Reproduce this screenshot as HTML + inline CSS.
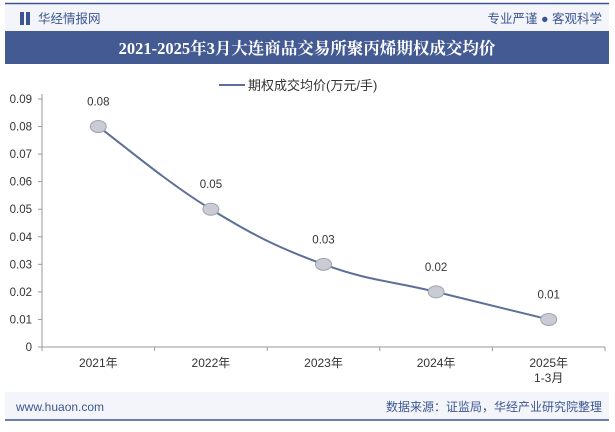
<!DOCTYPE html>
<html><head><meta charset="utf-8"><style>
body{margin:0;width:615px;height:427px;overflow:hidden;background:#fff;font-family:"Liberation Sans","Noto Sans CJK SC",sans-serif;}
</style></head><body>
<svg width="615" height="427" xmlns="http://www.w3.org/2000/svg" id="chart">
<rect x="5" y="3" width="604" height="28" fill="#f3f5fa"/>
<line x1="5" y1="3.5" x2="609" y2="3.5" stroke="#3b5592" stroke-width="1.5"/>
<rect x="20" y="12" width="4" height="13" fill="#3b5592"/><rect x="26" y="12" width="4" height="13" fill="#3b5592"/>
<text x="38" y="23" font-size="12.5" fill="#3b5592">华经情报网</text>
<text x="602" y="23" font-size="12.5" fill="#3b5592" text-anchor="end">专业严谨 ● 客观科学</text>
<rect x="5" y="31" width="604" height="33" fill="#435a92"/>
<text x="307" y="54" font-size="16.5" font-weight="bold" fill="#fff" text-anchor="middle" font-family="'Liberation Serif','Noto Serif CJK SC',serif">2021-2025年3月大连商品交易所聚丙烯期权成交均价</text>
<g>
<line x1="219" y1="85" x2="245" y2="85" stroke="#5b6f98" stroke-width="2"/>
<text x="248" y="90" font-size="13" fill="#333">期权成交均价(万元/手)</text>
</g>
<g id="axes"></g>
<g id="marks"></g>
<rect x="5" y="392" width="604" height="28" fill="#f3f5fa"/>
<line x1="5" y1="420" x2="609" y2="420" stroke="#3b5592" stroke-width="1.5"/>
<text x="16" y="411" font-size="12" fill="#3b5592">www.huaon.com</text>
<text x="602" y="411" font-size="12" fill="#3b5592" text-anchor="end">数据来源：证监局，华经产业研究院整理</text>
</svg>
<script>
const categories=["2021年","2022年","2023年","2024年","2025年\n1-3月"];
const values=[0.08,0.05,0.03,0.02,0.01];
const labels=["0.08","0.05","0.03","0.02","0.01"];
const yTicks=[0,0.01,0.02,0.03,0.04,0.05,0.06,0.07,0.08,0.09];
const NS="http://www.w3.org/2000/svg";
const x0=42,x1=605,yB=347,yT=99,yMax=0.09;
const step=(x1-x0)/categories.length;
const xs=i=>x0+step*(i+0.5);
const ys=v=>yB-(v/yMax)*(yB-yT);
const ax=document.getElementById('axes'),mk=document.getElementById('marks');
function el(t,a,p){const e=document.createElementNS(NS,t);for(const k in a)e.setAttribute(k,a[k]);p.appendChild(e);return e;}
const yl=el('line',{x1:x0,y1:yT-5,x2:x0,y2:yB,stroke:'#999'},ax);


const xl=el('line',{x1:x0,y1:yB,x2:x1,y2:yB,stroke:'#999'},ax);


yTicks.forEach(v=>{
 el('line',{x1:x0-4,y1:ys(v),x2:x0,y2:ys(v),stroke:'#999'},ax);
 const t=el('text',{x:x0-10,y:ys(v)+4,'font-size':11.5,fill:'#333','text-anchor':'end'},ax);
 t.textContent=String(v);
 
 
});
for(let i=0;i<=categories.length;i++)el('line',{x1:x0+step*i,y1:yB,x2:x0+step*i,y2:yB+4,stroke:'#999'},ax);
categories.forEach((c,i)=>{
 c.split('\n').forEach((ln,j)=>{
  const t=el('text',{x:xs(i),y:yB+20+j*15,'font-size':12,fill:'#333','text-anchor':'middle'},ax);
  t.textContent=ln;
  
  
 });
});
const pts=values.map((v,i)=>[xs(i),ys(v)]);
let d='M'+pts[0][0]+' '+pts[0][1];
for(let i=0;i<pts.length-1;i++){
 const p0=pts[Math.max(0,i-1)],p1=pts[i],p2=pts[i+1],p3=pts[Math.min(pts.length-1,i+2)];
 const t=0.2;
 d+=' C'+(p1[0]+(p2[0]-p0[0])*t)+' '+(p1[1]+(p2[1]-p0[1])*t)+' '+(p2[0]-(p3[0]-p1[0])*t)+' '+(p2[1]-(p3[1]-p1[1])*t)+' '+p2[0]+' '+p2[1];
}
const p=el('path',{d:d,fill:'none',stroke:'#5b6f98','stroke-width':2},mk);


values.forEach((v,i)=>{
 const c=el('ellipse',{cx:xs(i),cy:ys(v),rx:8,ry:6,fill:'#c9ccd4',stroke:'#9ea3ae'},mk);
 
 
 const t=el('text',{x:xs(i),y:ys(v)-21,'font-size':11.5,fill:'#333','text-anchor':'middle'},mk);
 t.textContent=labels[i];
 
 
});
</script>
</body></html>
